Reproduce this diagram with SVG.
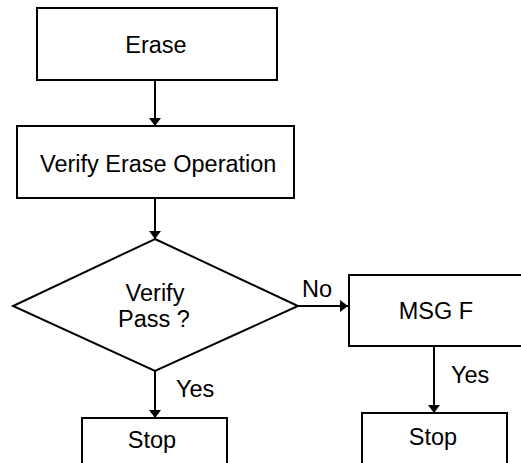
<svg xmlns="http://www.w3.org/2000/svg" width="521" height="463" viewBox="0 0 521 463">
  <style>
    .box { fill: #ffffff; stroke: #000000; stroke-width: 2; }
    .edge { fill: none; stroke: #000000; stroke-width: 2; }
    .lbl { font-family: "Liberation Sans", Arial, sans-serif; font-size: 23.5px; fill: #000000; }
    .mid { text-anchor: middle; }
  </style>
  <defs>
    <marker id="arrow" viewBox="0 0 8 12" refX="8" refY="6" markerWidth="8" markerHeight="12" markerUnits="userSpaceOnUse" orient="auto">
      <path d="M0,0 L8,6 L0,12 Z" fill="#000000"/>
    </marker>
  </defs>
  <rect width="521" height="463" fill="#ffffff"/>

  <g id="connectors">
    <line class="edge" x1="155" y1="80" x2="155" y2="126" marker-end="url(#arrow)"/>
    <line class="edge" x1="155" y1="198" x2="155" y2="239" marker-end="url(#arrow)"/>
    <line class="edge" x1="298" y1="306" x2="348" y2="306" marker-end="url(#arrow)"/>
    <line class="edge" x1="155" y1="371" x2="155" y2="418" marker-end="url(#arrow)"/>
    <line class="edge" x1="434" y1="346" x2="434" y2="413" marker-end="url(#arrow)"/>
    <text class="lbl" x="302" y="297">No</text>
    <text class="lbl" x="176" y="397">Yes</text>
    <text class="lbl" x="451" y="383">Yes</text>
  </g>

  <g id="erase">
    <rect class="box" x="37" y="8" width="240" height="72"/>
    <text class="lbl mid" x="156" y="53">Erase</text>
  </g>

  <g id="verify-erase">
    <rect class="box" x="17" y="126" width="277" height="72"/>
    <text class="lbl" x="40" y="172">Verify Erase Operation</text>
  </g>

  <g id="verify-pass">
    <polygon class="box" points="155,239 298,306 155,371 13,306"/>
    <text class="lbl mid" x="155" y="301">Verify</text>
    <text class="lbl mid" x="154" y="327">Pass ?</text>
  </g>

  <g id="msg-f">
    <rect class="box" x="349" y="275" width="180" height="71"/>
    <text class="lbl mid" x="436" y="319">MSG F</text>
  </g>

  <g id="stop-pass">
    <rect class="box" x="82" y="418" width="145" height="60"/>
    <text class="lbl mid" x="152" y="448">Stop</text>
  </g>

  <g id="stop-fail">
    <rect class="box" x="362" y="413" width="145" height="60"/>
    <text class="lbl mid" x="433" y="445">Stop</text>
  </g>
</svg>
